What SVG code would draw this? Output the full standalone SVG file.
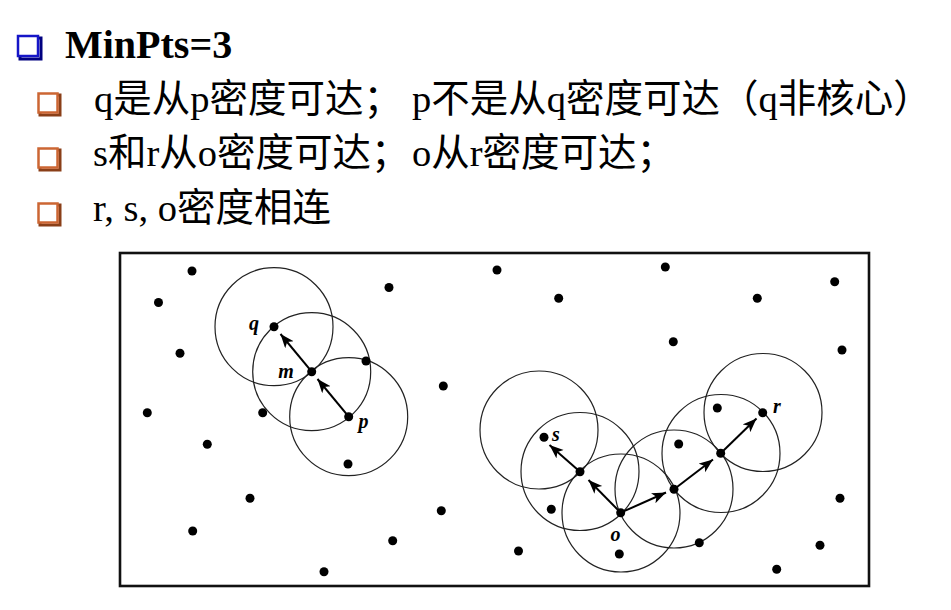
<svg xmlns="http://www.w3.org/2000/svg" width="951" height="610" viewBox="0 0 951 610">
<defs>
<style>
.t{font-family:"Liberation Serif","Noto Sans CJK SC",serif;font-size:38.5px;fill:#000}
.ti{font-family:"Liberation Serif","Noto Sans CJK SC",serif;font-size:40px;font-weight:bold;fill:#000}
.lb{font-family:"Liberation Serif",serif;font-size:20px;font-weight:bold;font-style:italic;fill:#000;text-anchor:middle}
.c{fill:none;stroke:#222;stroke-width:1.2}
.d{fill:#000}
.a{stroke:#000;stroke-width:2;fill:none;marker-end:url(#ah)}
</style>
<marker id="ah" markerUnits="userSpaceOnUse" markerWidth="16" markerHeight="12" refX="14" refY="5.5" orient="auto">
<path d="M0,0 L14,5.5 L0,11 L3.5,5.5 z" fill="#000"/>
</marker>
</defs>
<rect width="951" height="610" fill="#fff"/>

<g id="bullets">
<rect x="20" y="38" width="21" height="21" fill="none" stroke="#000080" stroke-width="3"/>
<rect x="18" y="36" width="20" height="20" fill="#fff" stroke="#1515c8" stroke-width="2.5"/>
<g fill="none">
<rect x="40" y="95" width="20" height="20" stroke="#8a3f18" stroke-width="3"/>
<rect x="38.5" y="93.5" width="19" height="19" fill="#fff" stroke="#cc6633" stroke-width="2.5"/>
<rect x="40" y="150" width="20" height="20" stroke="#8a3f18" stroke-width="3"/>
<rect x="38.5" y="148.5" width="19" height="19" fill="#fff" stroke="#cc6633" stroke-width="2.5"/>
<rect x="40" y="205" width="20" height="20" stroke="#8a3f18" stroke-width="3"/>
<rect x="38.5" y="203.5" width="19" height="19" fill="#fff" stroke="#cc6633" stroke-width="2.5"/>
</g>
</g>

<g id="text">
<text class="ti" x="65" y="58">MinPts=3</text>
<text class="t" x="94" y="112">q是从p密度可达；</text>
<text class="t" x="412" y="112">p不是从q密度可达（q非核心）</text>
<text class="t" x="93" y="166">s和r从o密度可达；</text>
<text class="t" x="412" y="166">o从r密度可达；</text>
<text class="t" x="93" y="221">r, s, o密度相连</text>
</g>

<rect id="frame" x="120" y="253" width="749" height="333" fill="none" stroke="#111" stroke-width="2.6"/>

<g id="circles">
<circle class="c" cx="274" cy="326.7" r="59"/>
<circle class="c" cx="311.7" cy="371.7" r="59"/>
<circle class="c" cx="348.7" cy="416.7" r="59"/>
<circle class="c" cx="539" cy="430" r="59"/>
<circle class="c" cx="580" cy="471.5" r="59"/>
<circle class="c" cx="621" cy="513" r="59"/>
<circle class="c" cx="674" cy="489" r="59"/>
<circle class="c" cx="721" cy="453.5" r="59"/>
<circle class="c" cx="763" cy="412.5" r="59"/>
</g>

<g id="points">
<circle class="d" cx="192" cy="271" r="4.5"/>
<circle class="d" cx="158.5" cy="302.5" r="4.5"/>
<circle class="d" cx="389" cy="287.5" r="4.5"/>
<circle class="d" cx="497" cy="270" r="4.5"/>
<circle class="d" cx="665.3" cy="267" r="4.5"/>
<circle class="d" cx="834.7" cy="281.7" r="4.5"/>
<circle class="d" cx="558.7" cy="298.3" r="4.5"/>
<circle class="d" cx="757.3" cy="298.3" r="4.5"/>
<circle class="d" cx="180" cy="353.3" r="4.5"/>
<circle class="d" cx="673.3" cy="341.7" r="4.5"/>
<circle class="d" cx="842" cy="350" r="4.5"/>
<circle class="d" cx="443.3" cy="386" r="4.5"/>
<circle class="d" cx="147.3" cy="412.7" r="4.5"/>
<circle class="d" cx="262.7" cy="412.7" r="4.5"/>
<circle class="d" cx="207.3" cy="444.3" r="4.5"/>
<circle class="d" cx="348" cy="464" r="4.5"/>
<circle class="d" cx="250" cy="498.3" r="4.5"/>
<circle class="d" cx="441.3" cy="510.7" r="4.5"/>
<circle class="d" cx="192.7" cy="531" r="4.5"/>
<circle class="d" cx="392.7" cy="540.7" r="4.5"/>
<circle class="d" cx="518.5" cy="551" r="4.5"/>
<circle class="d" cx="324" cy="571.7" r="4.5"/>
<circle class="d" cx="366" cy="361" r="4.5"/>
<circle class="d" cx="551.3" cy="509.3" r="4.5"/>
<circle class="d" cx="619.3" cy="554" r="4.5"/>
<circle class="d" cx="699.3" cy="542.7" r="4.5"/>
<circle class="d" cx="820" cy="545.3" r="4.5"/>
<circle class="d" cx="776.7" cy="569.3" r="4.5"/>
<circle class="d" cx="840" cy="498.3" r="4.5"/>
<circle class="d" cx="717.3" cy="408" r="4.5"/>
<circle class="d" cx="678.7" cy="444" r="4.5"/>
</g>

<g id="node-q"><circle class="d" cx="274" cy="326.7" r="4.5"/><text class="lb" x="254" y="330">q</text></g>
<g id="node-m"><circle class="d" cx="311.7" cy="371.7" r="4.5"/><text class="lb" x="286" y="378">m</text></g>
<g id="node-p"><circle class="d" cx="348.7" cy="416.7" r="4.5"/><text class="lb" x="363.5" y="428">p</text></g>
<g id="node-s"><circle class="d" cx="544" cy="437.3" r="4.5"/><text class="lb" x="556" y="441">s</text></g>
<g id="node-n1"><circle class="d" cx="580" cy="471.7" r="4.5"/></g>
<g id="node-o"><circle class="d" cx="620.7" cy="512.7" r="4.5"/><text class="lb" x="615.5" y="541">o</text></g>
<g id="node-n2"><circle class="d" cx="674" cy="489.3" r="4.5"/></g>
<g id="node-n3"><circle class="d" cx="720.7" cy="453.3" r="4.5"/></g>
<g id="node-r"><circle class="d" cx="762.7" cy="412.7" r="4.5"/><text class="lb" x="777" y="413">r</text></g>

<g id="connectors">
<line class="a" x1="348.7" y1="416.7" x2="317.5" y2="379"/>
<line class="a" x1="311.7" y1="371.7" x2="280.5" y2="334"/>
<line class="a" x1="620.7" y1="512.7" x2="588.5" y2="480"/>
<line class="a" x1="580" y1="471.7" x2="549.5" y2="445"/>
<line class="a" x1="620.7" y1="512.7" x2="666" y2="492.5"/>
<line class="a" x1="674" y1="489.3" x2="713" y2="459.5"/>
<line class="a" x1="720.7" y1="453.3" x2="756.5" y2="418.5"/>
</g>
</svg>
